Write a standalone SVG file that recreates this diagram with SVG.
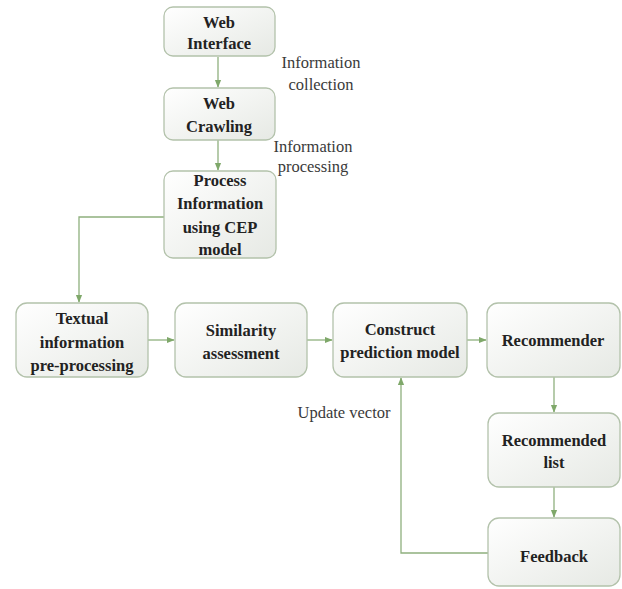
<svg xmlns="http://www.w3.org/2000/svg" width="622" height="589" viewBox="0 0 622 589">
<defs>
<linearGradient id="g" x1="0" y1="0" x2="1" y2="1">
<stop offset="0" stop-color="#ffffff"/>
<stop offset="1" stop-color="#e6e9e4"/>
</linearGradient>
<marker id="a" viewBox="0 0 10 10" refX="9" refY="5" markerWidth="6" markerHeight="6" orient="auto">
<path d="M0,1 L10,5 L0,9 z" fill="#7fa86a"/>
</marker>
</defs>
<style>
.n{fill:url(#g);stroke:#b3c2ab;stroke-width:1.3}
.t{font-family:"Liberation Serif","Times New Roman",serif;font-weight:bold;font-size:16.5px;fill:#222;text-anchor:middle}
.l{font-family:"Liberation Serif","Times New Roman",serif;font-size:16.5px;fill:#3a3a3a;text-anchor:middle}
.c{fill:none;stroke:#8fb07e;stroke-width:1.3}
</style>
<rect width="622" height="589" fill="#fff"/>
<g id="connectors">
<path class="c" d="M218,57 V87" marker-end="url(#a)"/>
<path class="c" d="M218,140 V170" marker-end="url(#a)"/>
<path class="c" d="M164,217 H79 V302" marker-end="url(#a)"/>
<path class="c" d="M148,340 H174" marker-end="url(#a)"/>
<path class="c" d="M307,340 H332" marker-end="url(#a)"/>
<path class="c" d="M467,340 H486" marker-end="url(#a)"/>
<path class="c" d="M554,377 V412" marker-end="url(#a)"/>
<path class="c" d="M554,487 V517" marker-end="url(#a)"/>
<path class="c" d="M488,553 H401 V378" marker-end="url(#a)"/>
</g>
<g id="labels">
<text class="l" x="321" y="68">Information</text>
<text class="l" x="321" y="90">collection</text>
<text class="l" x="313" y="152">Information</text>
<text class="l" x="313" y="172">processing</text>
<text class="l" x="344" y="418">Update vector</text>
</g>
<g id="web-interface">
<rect class="n" x="164" y="7" width="111" height="49" rx="9"/>
<text class="t" x="219" y="28">Web</text>
<text class="t" x="219" y="49">Interface</text>
</g>
<g id="web-crawling">
<rect class="n" x="164" y="88" width="111" height="52" rx="9"/>
<text class="t" x="219" y="109">Web</text>
<text class="t" x="219" y="132">Crawling</text>
</g>
<g id="process-information">
<rect class="n" x="164" y="171" width="112" height="87" rx="9"/>
<text class="t" x="220" y="186">Process</text>
<text class="t" x="220" y="209">Information</text>
<text class="t" x="220" y="233">using CEP</text>
<text class="t" x="220" y="255">model</text>
</g>
<g id="textual">
<rect class="n" x="16" y="303" width="132" height="74" rx="11"/>
<text class="t" x="82" y="324">Textual</text>
<text class="t" x="82" y="348">information</text>
<text class="t" x="82" y="371">pre-processing</text>
</g>
<g id="similarity">
<rect class="n" x="175" y="303" width="132" height="74" rx="11"/>
<text class="t" x="241" y="336">Similarity</text>
<text class="t" x="241" y="359">assessment</text>
</g>
<g id="construct">
<rect class="n" x="333" y="303" width="134" height="74" rx="11"/>
<text class="t" x="400" y="335">Construct</text>
<text class="t" x="400" y="358">prediction model</text>
</g>
<g id="recommender">
<rect class="n" x="487" y="303" width="133" height="74" rx="11"/>
<text class="t" x="553" y="346">Recommender</text>
</g>
<g id="recommended-list">
<rect class="n" x="488" y="413" width="132" height="74" rx="11"/>
<text class="t" x="554" y="446">Recommended</text>
<text class="t" x="554" y="468">list</text>
</g>
<g id="feedback">
<rect class="n" x="488" y="518" width="132" height="68" rx="11"/>
<text class="t" x="554" y="562">Feedback</text>
</g>
</svg>
